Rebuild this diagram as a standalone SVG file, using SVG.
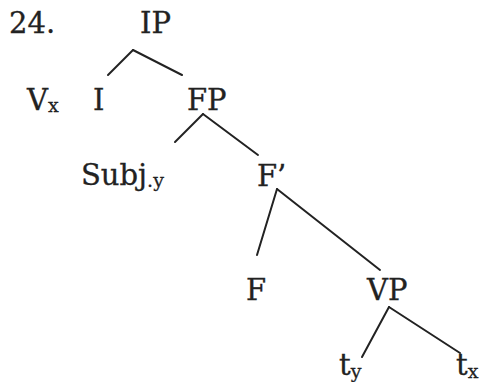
<svg xmlns="http://www.w3.org/2000/svg" width="480" height="382" viewBox="0 0 480 382">
<style>
text{font-family:"DejaVu Serif","Liberation Serif",serif;font-size:29px;fill:#222;stroke:#222;stroke-width:0.3}
.sub{font-size:19px}
#edges line{stroke:#222;stroke-width:2;stroke-linecap:round}
</style>
<rect width="480" height="382" fill="#fff"/>
<text id="num" x="9" y="33">24.</text>
<g id="IP"><text x="140" y="33">IP</text></g>
<g id="Vx"><text x="27" y="110">V<tspan class="sub" dy="2">x</tspan></text></g>
<g id="I"><text x="93" y="110">I</text></g>
<g id="FP"><text x="187" y="110">FP</text></g>
<g id="Subj"><text x="81" y="185">Subj<tspan class="sub" dy="2">.y</tspan></text></g>
<g id="Fbar"><text x="257" y="186">F’</text></g>
<g id="F"><text x="246" y="300">F</text></g>
<g id="VP"><text x="367" y="300">VP</text></g>
<g id="ty"><text x="339" y="375">t<tspan class="sub" dy="3">y</tspan></text></g>
<g id="tx"><text x="456" y="375">t<tspan class="sub" dy="3">x</tspan></text></g>
<g id="edges">
<line x1="133" y1="50" x2="108" y2="75"/>
<line x1="133" y1="50" x2="182" y2="75"/>
<line x1="203" y1="114" x2="175" y2="142"/>
<line x1="203" y1="114" x2="258" y2="155"/>
<line x1="277" y1="189" x2="257" y2="255"/>
<line x1="277" y1="189" x2="380" y2="270"/>
<line x1="389" y1="307" x2="362" y2="357"/>
<line x1="389" y1="307" x2="460" y2="353"/>
</g>
</svg>
